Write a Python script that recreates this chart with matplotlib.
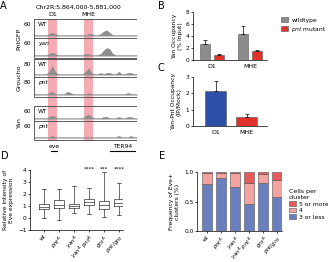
import numpy as np
import matplotlib
matplotlib.use("Agg")
import matplotlib.pyplot as plt
from matplotlib.patches import Rectangle, Patch

plt.rcParams['font.family'] = 'DejaVu Sans'
plt.rcParams['font.size'] = 4.2
plt.rcParams['axes.linewidth'] = 0.5
plt.rcParams['xtick.major.width'] = 0.5
plt.rcParams['ytick.major.width'] = 0.5
plt.rcParams['xtick.major.size'] = 1.5
plt.rcParams['ytick.major.size'] = 1.5
plt.rcParams['xtick.major.pad'] = 1
plt.rcParams['ytick.major.pad'] = 1
plt.rcParams['mathtext.default'] = 'regular'

W, H = 328, 262

# ---- data ----
# panel A: ChIP tracks, signal sampled every 0.5 kb across Chr2R:5,864,000-5,881,000
track_kb = np.arange(35) * 0.5
pntgfp_wt = [1,1,1,1,1,2,3,2,1,1,1,1,1,1,1,1,1,1,2,2,1,1,2,4,5,3,1,1,1,1,1,1,1,1,1]
pntgfp_yan = [1,1,1,1,1,2,3,2,1,1,1,1,1,1,1,1,1,2,2,1,1,1,2,5,7,6,2,1,1,1,1,1,1,1,1]
gro_wt = [1,1,1,1,1,3,8,3,1,1,1,1,1,1,1,1,1,3,6,2,1,1,2,1,2,2,1,1,3,1,1,2,2,1,1]
gro_pnt = [1,1,1,1,1,2,3,1,1,1,1,3,2,1,1,1,1,1,2,1,1,1,1,1,1,1,1,1,1,1,1,2,1,1,1]
yan_wt = [1,1,1,1,1,2,3,2,1,1,1,1,1,1,1,1,1,3,4,2,1,1,1,2,2,1,1,1,2,1,1,2,2,1,1]
yan_pnt = [1,1,1,1,1,1,2,1,1,1,1,1,1,1,1,1,1,1,1,1,1,1,1,1,1,1,1,1,2,1,1,1,2,1,1]
enhancers = ["D1", "MHE"]
enh_start = [2.3, 8.3]
enh_end = [3.8, 9.8]
genes = ["eve", "TER94"]
gene_start = [2.8, 12.6]
gene_end = [3.8, 16.7]

# panel B: Yan occupancy (% input)
b_sites = ["D1", "MHE"]
b_wt = [2.6, 4.4]
b_wt_err = [0.7, 1.2]
b_pnt = [0.9, 1.5]
b_pnt_err = [0.12, 0.2]

# panel C: Yan-Pnt occupancy (IP/Mock)
c_sites = ["D1", "MHE"]
c_vals = [2.15, 0.55]
c_err = [0.6, 0.2]

# panel D: box plot stats (whislo, q1, med, q3, whishi)
d_labels = ["wt", r"$\it{pnt}^{\Delta}$", r"$\it{yan}^{\Delta}$",
            r"$\it{yan}^{\Delta}\ \it{pnt}^{\Delta}$", r"$\it{gro}^{\Delta}$", r"$\it{pnt/gro}$"]
d_lo = [0.0, -0.15, 0.4, 0.35, 0.05, 0.25]
d_q1 = [0.75, 0.8, 0.8, 1.1, 0.75, 1.0]
d_med = [0.95, 1.1, 1.0, 1.3, 1.05, 1.25]
d_q3 = [1.15, 1.5, 1.15, 1.6, 1.4, 1.6]
d_hi = [2.4, 2.45, 2.65, 2.5, 3.8, 2.9]
d_sig = ["", "", "", "****", "***", "****"]

# panel E: Eve+ cluster size frequencies
e_le3 = [0.80, 0.89, 0.74, 0.45, 0.82, 0.58]
e_4 = [0.18, 0.10, 0.25, 0.36, 0.14, 0.29]
e_ge5 = [0.02, 0.01, 0.01, 0.19, 0.04, 0.13]

fig = plt.figure(figsize=(W / 100, H / 100), dpi=100)


def ax_px(x0, y0, x1, y1):
    return fig.add_axes([x0 / W, 1 - y1 / H, (x1 - x0) / W, (y1 - y0) / H])


def txt(x, y, s, **kw):
    fig.text(x / W, 1 - y / H, s, **kw)


# ---- panel letters ----
for lab, x, y in [("A", 0, 6), ("B", 158, 6), ("C", 158, 68), ("D", 1, 156), ("E", 159, 156)]:
    txt(x, y, lab, fontsize=7, va="center", ha="left")

# ---- A ----
axA = ax_px(34, 19, 137, 155)
axA.set_xlim(0, 17)
axA.set_ylim(155, 19)
axA.axis("off")
for s, e in zip(enh_start, enh_end):
    axA.add_patch(Rectangle((s, 19), e - s, 122, color="#f6abb2", lw=0, zorder=0))
groups = [("PntGFP", 19, 38, 58, "60", [("WT", pntgfp_wt), ("yan", pntgfp_yan)]),
          ("Groucho", 59, 77, 97, "80", [("WT", gro_wt), ("pnt", gro_pnt)]),
          ("Yan", 106, 121, 140, "60", [("WT", yan_wt), ("pnt", yan_pnt)])]
for name, top, mid, bot, scale, tracks in groups:
    axA.add_patch(Rectangle((0, top), 17, bot - top, fill=False, lw=0.6, ec="#444444", zorder=3))
    axA.plot([0, 17], [mid, mid], color="#444444", lw=0.6, zorder=3)
    txt(19, (top + bot) / 2, name, rotation=90, ha="center", va="center", fontsize=4.5)
    for (lab, sig), t, b in zip(tracks, [top, mid], [mid, bot]):
        base = b - 2
        axA.fill_between(track_kb, base, base - 1.2 * np.array(sig), color="#8f8f8f", lw=0, zorder=2)
        txt(38, t + 5.5, lab, fontsize=4.3, va="center",
            style="normal" if lab == "WT" else "italic")
        txt(31, t + 5.5, scale, fontsize=4.3, va="center", ha="right")
for name, s, e in zip(genes, gene_start, gene_end):
    axA.plot([s, e], [151, 151], color="k", lw=0.8)
    axA.text((s + e) / 2, 147, name, ha="center", va="center", fontsize=4.3)
txt(78, 7, "Chr2R:5,864,000-5,881,000", ha="center", va="center", fontsize=4.5)
for name, s, e in zip(enhancers, enh_start, enh_end):
    txt(34 + (s + e) / 2 / 17 * 103, 15, name, ha="center", va="center", fontsize=4.5)

# ---- B ----
axB = ax_px(193, 12, 267, 60)
xb = np.arange(len(b_sites))
axB.bar(xb - 0.18, b_wt, 0.26, color="#8c8c8c", edgecolor="#555555", lw=0.4,
        yerr=[[0, 0], b_wt_err], error_kw=dict(elinewidth=0.5, capsize=1.5, capthick=0.5),
        label="wildtype")
axB.bar(xb + 0.18, b_pnt, 0.26, color="#e0322a", edgecolor="#555555", lw=0.4,
        yerr=[[0, 0], b_pnt_err], error_kw=dict(elinewidth=0.5, capsize=1.5, capthick=0.5),
        label=r"$\it{pnt}$ mutant")
axB.set_xlim(-0.5, 1.45)
axB.set_ylim(0, 8)
axB.set_yticks([0, 2, 4, 6, 8])
axB.set_xticks(xb)
axB.set_xticklabels(b_sites, fontsize=4.5)
axB.tick_params(axis="x", length=0, pad=3)
axB.spines[["top", "right"]].set_visible(False)
axB.set_ylabel("Yan Occupancy\n(% Input)", fontsize=4.3, labelpad=2)
axB.legend(loc="upper left", bbox_to_anchor=(1.12, 1.0), frameon=False, fontsize=4.3,
           handlelength=1.2, handleheight=0.8, handletextpad=0.5, labelspacing=0.3)

# ---- C ----
axC = ax_px(193, 77, 267, 126)
xc = np.arange(len(c_sites))
axC.bar(xc, c_vals, 0.68, color=["#2d4fa6", "#e0322a"], edgecolor="#555555", lw=0.4,
        yerr=[[0, 0], c_err], error_kw=dict(elinewidth=0.5, capsize=1.5, capthick=0.5))
axC.set_xlim(-0.74, 1.65)
axC.set_ylim(0, 3)
axC.set_yticks([0, 1, 2, 3])
axC.set_xticks(xc)
axC.set_xticklabels(c_sites, fontsize=4.5)
axC.tick_params(axis="x", length=0, pad=3)
axC.spines[["top", "right"]].set_visible(False)
axC.set_ylabel("Yan-Pnt Occupancy\n(IP/Mock)", fontsize=4.3, labelpad=3)

# ---- D ----
axD = ax_px(30, 170, 123, 230)
stats = [dict(whislo=a, q1=b, med=c, q3=d, whishi=e, fliers=[])
         for a, b, c, d, e in zip(d_lo, d_q1, d_med, d_q3, d_hi)]
xd = np.arange(len(d_labels))
axD.bxp(stats, positions=xd, widths=0.65, showfliers=False,
        boxprops=dict(lw=0.5, color="#333333"), whiskerprops=dict(lw=0.5, color="#333333"),
        capprops=dict(lw=0.5, color="#333333"), medianprops=dict(lw=0.5, color="#333333"))
axD.set_xlim(-0.93, 5.27)
axD.set_ylim(-1, 4)
axD.set_yticks([-1, 0, 1, 2, 3, 4])
axD.set_xticks(xd)
axD.set_xticklabels(d_labels, rotation=45, ha="right", rotation_mode="anchor", fontsize=4.0)
axD.spines[["top", "right"]].set_visible(False)
axD.set_ylabel("Relative Intensity of\nEve expression", fontsize=4.3, labelpad=3)
for x, s in zip(xd, d_sig):
    if s:
        axD.text(x, 4.05, s, ha="center", va="center", fontsize=4, clip_on=False)

# ---- E ----
axE = ax_px(197, 172, 282, 231)
xe = np.arange(len(e_le3))
kw = dict(width=0.72, edgecolor="#555555", lw=0.4)
axE.bar(xe, e_le3, color="#6a7fbf", **kw)
axE.bar(xe, e_4, bottom=e_le3, color="#f4a3a0", **kw)
axE.bar(xe, e_ge5, bottom=np.array(e_le3) + np.array(e_4), color="#e65a5a", **kw)
axE.set_xlim(-0.71, 5.36)
axE.set_ylim(0, 1.0)
axE.set_yticks([0, 0.5, 1.0])
axE.set_yticklabels(["0.0", "0.5", "1.0"])
axE.set_xticks(xe)
axE.set_xticklabels(d_labels, rotation=45, ha="right", rotation_mode="anchor", fontsize=3.9)
axE.spines[["top", "right"]].set_visible(False)
axE.set_ylabel("Frequency of Eve+\nclusters (%)", fontsize=4.3, labelpad=3)
handles = [Patch(facecolor="#e65a5a", edgecolor="#555555", lw=0.4),
           Patch(facecolor="#f4a3a0", edgecolor="#555555", lw=0.4),
           Patch(facecolor="#6a7fbf", edgecolor="#555555", lw=0.4)]
leg = axE.legend(handles, ["5 or more", "4", "3 or less"], title="Cells per\ncluster",
                 loc="center left", bbox_to_anchor=(1.02, 0.45), frameon=False, fontsize=4.3,
                 title_fontsize=4.5, handlelength=1.2, handleheight=0.8, handletextpad=0.5,
                 labelspacing=0.2, alignment="left")

fig.savefig("out.png", dpi=100)
